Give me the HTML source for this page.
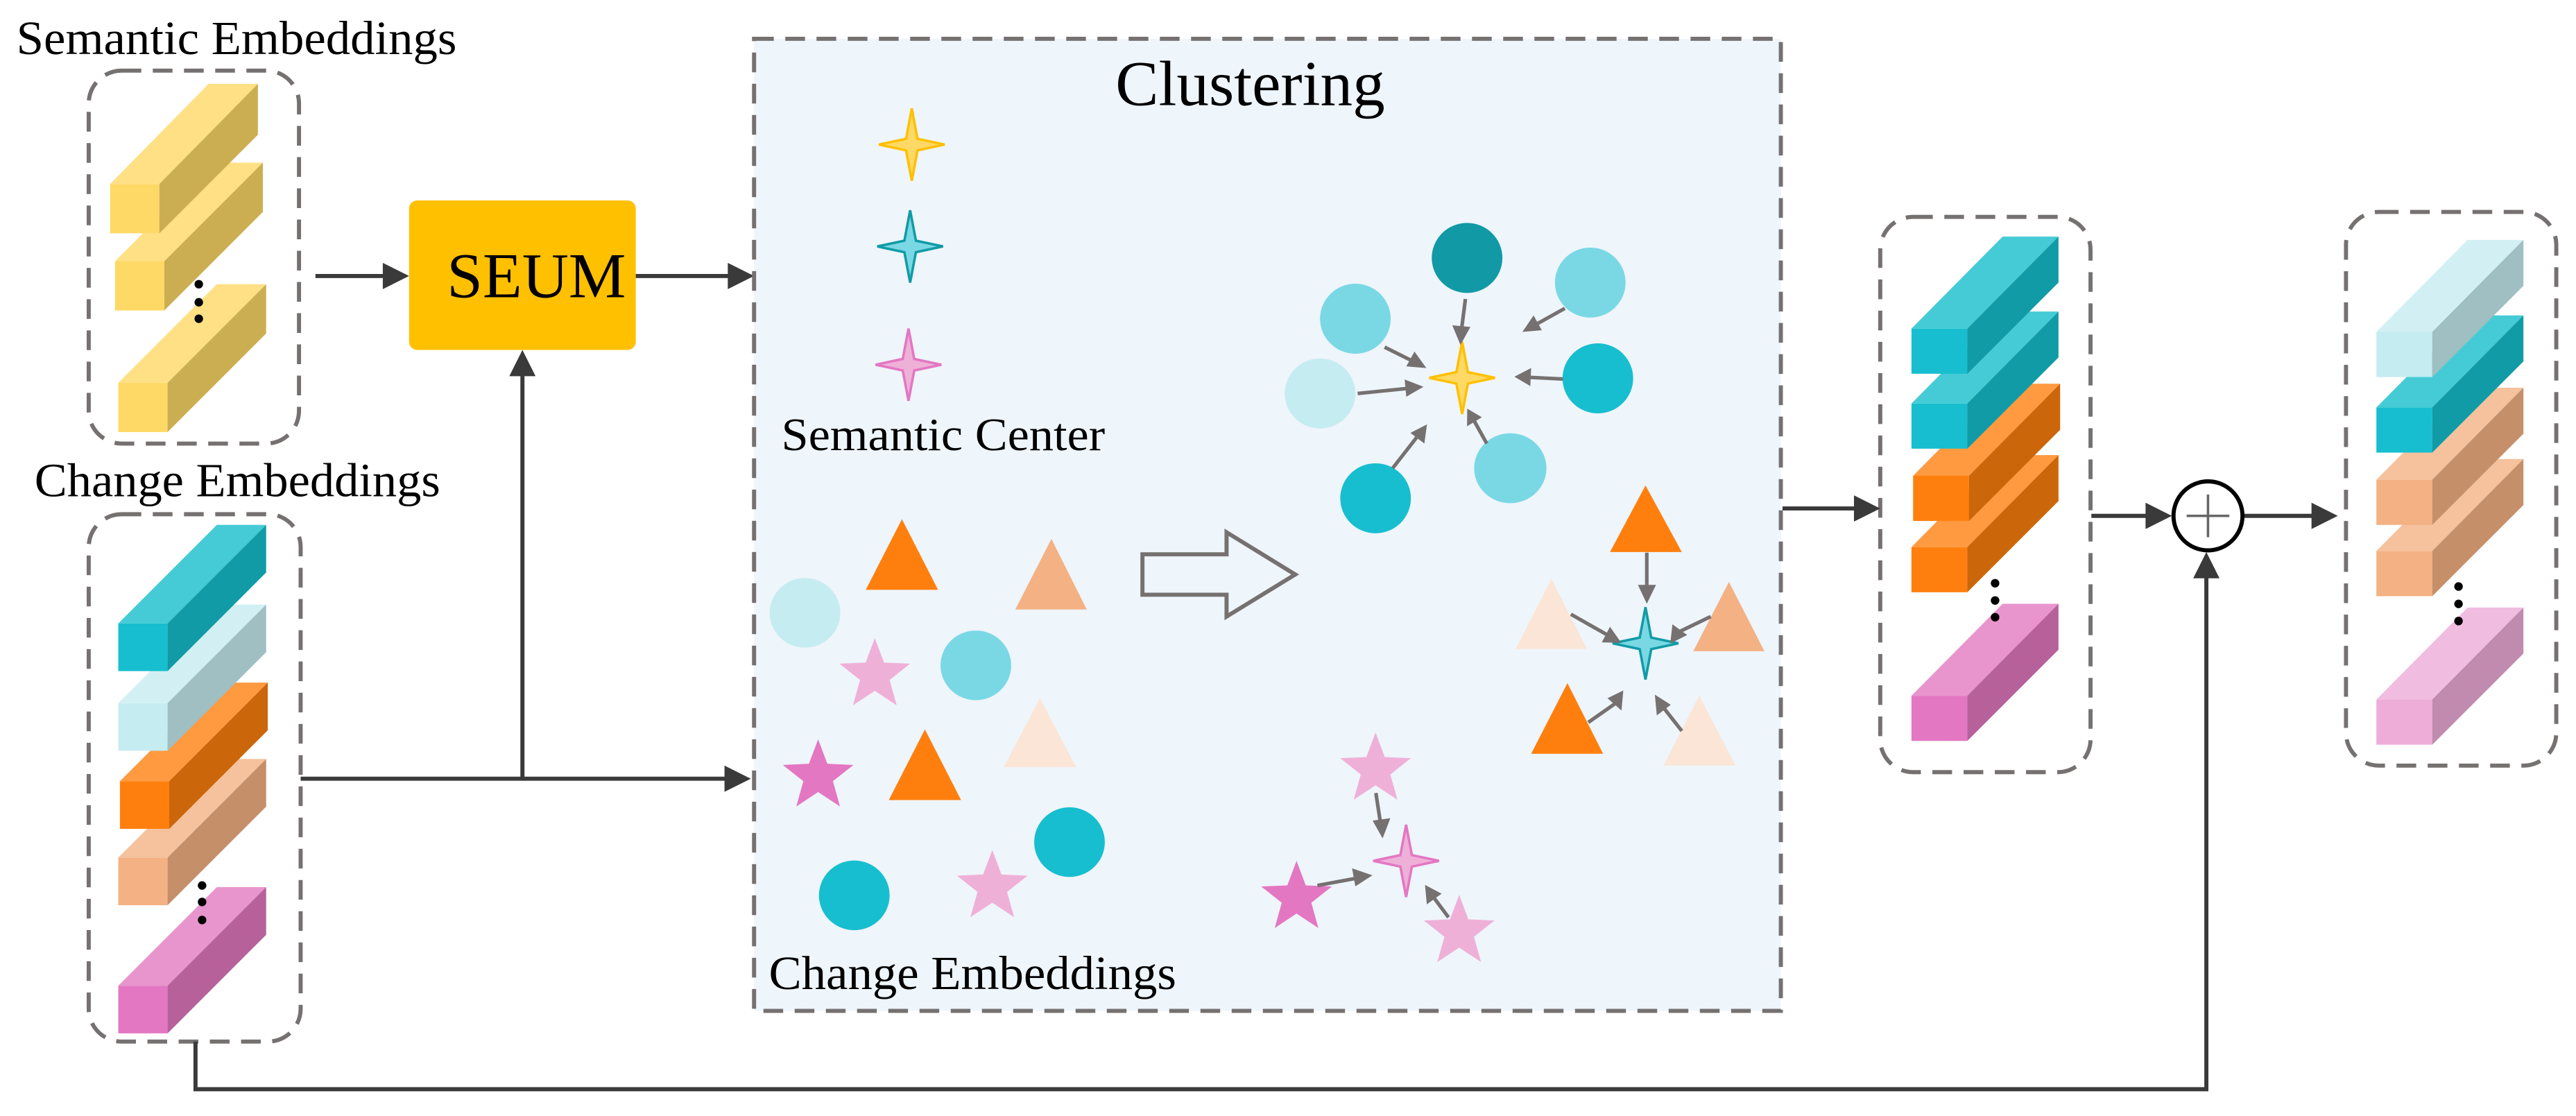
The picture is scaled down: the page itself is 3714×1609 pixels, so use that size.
<!DOCTYPE html>
<html><head><meta charset="utf-8"><style>html,body{margin:0;padding:0;background:#fff}svg{display:block}</style></head>
<body>
<svg xmlns="http://www.w3.org/2000/svg" width="3714" height="1609" viewBox="0 0 1568 679.3">
<defs>
<path id="sp" d="M0,-22 L3.5,-3.5 L20,0 L3.5,3.5 L0,22 L-3.5,3.5 L-20,0 L-3.5,-3.5Z"/>
<path id="st" d="M0,-22.6 L5.6,-7.7 L21.5,-7 L9,2.9 L13.3,18.3 L0,9.5 L-13.3,18.3 L-9,2.9 L-21.5,-7 L-5.6,-7.7Z"/>
</defs>
<rect width="1568" height="680" fill="#fff"/>
<g font-family="Liberation Serif, serif" fill="#000">
<text x="10" y="33" font-size="29" textLength="268" lengthAdjust="spacingAndGlyphs">Semantic Embeddings</text>
<text x="21" y="302" font-size="29" textLength="247" lengthAdjust="spacingAndGlyphs">Change Embeddings</text>
</g>
<!-- left dashed boxes -->
<g fill="none" stroke="#767171" stroke-width="2.5" stroke-dasharray="12 7">
<rect x="54" y="43" width="128" height="227" rx="20"/>
<rect x="54" y="313" width="129" height="321" rx="20"/>
<rect x="1144.5" y="132" width="128" height="338" rx="20"/>
<rect x="1428" y="129" width="128" height="337" rx="20"/>
</g>
<!-- yellow bars (bottom first) -->
<g transform="translate(72,233)"><rect width="30" height="30" fill="#FFD966"/><polygon points="0,0 30,0 90,-60 60,-60" fill="#FFE085"/><polygon points="30,0 90,-60 90,-30 30,30" fill="#CCAE52"/></g>
<g transform="translate(70,159)"><rect width="30" height="30" fill="#FFD966"/><polygon points="0,0 30,0 90,-60 60,-60" fill="#FFE085"/><polygon points="30,0 90,-60 90,-30 30,30" fill="#CCAE52"/></g>
<g transform="translate(67,112)"><rect width="30" height="30" fill="#FFD966"/><polygon points="0,0 30,0 90,-61 60,-61" fill="#FFE085"/><polygon points="30,0 90,-61 90,-30 30,30" fill="#CCAE52"/></g>
<g fill="#000"><circle cx="121" cy="173" r="2.6"/><circle cx="121" cy="184" r="2.6"/><circle cx="121" cy="194" r="2.6"/></g>
<!-- change bars left -->
<g transform="translate(72,600)"><rect width="30" height="29" fill="#E377C2"/><polygon points="0,0 30,0 90,-60 60,-60" fill="#E895CD"/><polygon points="30,0 90,-60 90,-31 30,29" fill="#B7619B"/></g>
<g transform="translate(72,522)"><rect width="30" height="29" fill="#F4B183"/><polygon points="0,0 30,0 90,-60 60,-60" fill="#F5C29D"/><polygon points="30,0 90,-60 90,-31 30,29" fill="#C58F6A"/></g>
<g transform="translate(73,475.5)"><rect width="30" height="29" fill="#FF7F0E"/><polygon points="0,0 30,0 90,-60 60,-60" fill="#FF9A40"/><polygon points="30,0 90,-60 90,-31 30,29" fill="#CC660A"/></g>
<g transform="translate(72,428)"><rect width="30" height="29" fill="#C5ECF1"/><polygon points="0,0 30,0 90,-60 60,-60" fill="#D2F0F4"/><polygon points="30,0 90,-60 90,-31 30,29" fill="#A0BFC3"/></g>
<g transform="translate(72,379.5)"><rect width="30" height="29" fill="#17BECF"/><polygon points="0,0 30,0 90,-60 60,-60" fill="#45CBD6"/><polygon points="30,0 90,-60 90,-31 30,29" fill="#119BA6"/></g>
<g fill="#000"><circle cx="123" cy="539" r="2.6"/><circle cx="123" cy="549" r="2.6"/><circle cx="123" cy="560" r="2.6"/></g>
<!-- SEUM -->
<rect x="249" y="122" width="138" height="91" rx="5" fill="#FFC000"/>
<text x="272" y="181" font-family="Liberation Serif, serif" font-size="39" textLength="109" lengthAdjust="spacingAndGlyphs">SEUM</text>
<!-- connectors -->
<g stroke="#3A3A3A" stroke-width="2.5" fill="none">
<line x1="192" y1="168" x2="236" y2="168"/>
<line x1="387" y1="168" x2="446" y2="168"/>
<polyline points="183,474 318,474 318,226"/>
<line x1="318" y1="474" x2="444" y2="474"/>
<polyline points="119,634 119,663 1343,663 1343,350"/>
<line x1="1085" y1="309.5" x2="1132" y2="309.5"/>
<line x1="1273" y1="314" x2="1309" y2="314"/>
<line x1="1365" y1="314" x2="1410" y2="314"/>
</g>
<g fill="#3A3A3A">
<polygon points="249,168 233,160 233,176"/>
<polygon points="459,168 443,160 443,176"/>
<polygon points="318,213 310,229 326,229"/>
<polygon points="457,474 441,466 441,482"/>
<polygon points="1343,336 1335,352 1351,352"/>
<polygon points="1144.5,309.5 1128.5,301.5 1128.5,317.5"/>
<polygon points="1322,314 1306,306 1306,322"/>
<polygon points="1423,314 1407,306 1407,322"/>
</g>
<!-- plus circle -->
<circle cx="1344" cy="314" r="21" fill="#fff" stroke="#000" stroke-width="2.5"/>
<g stroke="#666" stroke-width="1.5"><line x1="1331" y1="314" x2="1357" y2="314"/><line x1="1344" y1="301" x2="1344" y2="327"/></g>
<!-- clustering panel -->
<rect x="459" y="23.6" width="625" height="591.7" fill="#EEF5FB" stroke="#767171" stroke-width="2.5" stroke-dasharray="12 7"/>
<g font-family="Liberation Serif, serif" fill="#000">
<text x="679" y="64" font-size="39" textLength="164" lengthAdjust="spacingAndGlyphs">Clustering</text>
<text x="475.6" y="274" font-size="28" textLength="197" lengthAdjust="spacingAndGlyphs">Semantic Center</text>
<text x="468" y="602" font-size="29" textLength="248" lengthAdjust="spacingAndGlyphs">Change Embeddings</text>
</g>
<!-- legend sparkles -->
<use href="#sp" transform="translate(555,88)" fill="#FFD966" stroke="#FFC000" stroke-width="1.5"/>
<use href="#sp" transform="translate(554,150)" fill="#7AD8E5" stroke="#119BA6" stroke-width="1.5"/>
<use href="#sp" transform="translate(553,222)" fill="#EFB0D8" stroke="#E377C2" stroke-width="1.5"/>
<!-- scattered -->
<ellipse cx="490" cy="373" rx="21.5" ry="21.2" fill="#C5ECF1"/>
<polygon points="549,316 527,359 571,359" fill="#FF7F0E"/>
<polygon points="640,328 618,371 661.5,371" fill="#F4B183"/>
<use href="#st" transform="translate(532.5,411)" fill="#EFB0D8"/>
<ellipse cx="594" cy="405" rx="21.5" ry="21.2" fill="#7AD8E5"/>
<polygon points="633,425 611,467 655,467" fill="#FBE5D6"/>
<use href="#st" transform="translate(498,472.6)" fill="#E377C2"/>
<polygon points="563,444 541,487 585,487" fill="#FF7F0E"/>
<ellipse cx="651" cy="512.6" rx="21.5" ry="21.2" fill="#17BECF"/>
<ellipse cx="520" cy="545" rx="21.5" ry="21.2" fill="#17BECF"/>
<use href="#st" transform="translate(604,540)" fill="#EFB0D8"/>
<!-- hollow arrow -->
<polygon points="695.4,337.4 746.6,337.4 746.6,324 788.4,349.7 746.6,375.3 746.6,362 695.4,362" fill="none" stroke="#767171" stroke-width="2.5"/>
<!-- cluster 1 -->
<ellipse cx="893" cy="157" rx="21.5" ry="21.3" fill="#1199A6"/>
<ellipse cx="968" cy="172" rx="21.5" ry="21.3" fill="#7AD8E5"/>
<ellipse cx="825" cy="194" rx="21.5" ry="21.3" fill="#7AD8E5"/>
<ellipse cx="803.5" cy="239.5" rx="21.5" ry="21.3" fill="#C5ECF1"/>
<ellipse cx="972.6" cy="230.3" rx="21.5" ry="21.3" fill="#17BECF"/>
<ellipse cx="919.3" cy="285" rx="22" ry="21.3" fill="#7AD8E5"/>
<ellipse cx="837.3" cy="303.3" rx="21.5" ry="21.3" fill="#17BECF"/>
<use href="#sp" transform="translate(890,230)" fill="#FFD966" stroke="#FFC000" stroke-width="1.5"/>
<!-- cluster 2 -->
<polygon points="1001.6,295.5 980,336 1023.7,336" fill="#FF7F0E"/>
<polygon points="944.3,352.4 922.6,395 966,395" fill="#FBE5D6"/>
<polygon points="1052.4,354.2 1030.7,396.4 1074,396.4" fill="#F4B183"/>
<polygon points="954.1,415.8 932,458.8 975.8,458.8" fill="#FF7F0E"/>
<polygon points="1034.3,423.4 1012.6,466 1056.4,466" fill="#FBE5D6"/>
<use href="#sp" transform="translate(1001.6,391.6)" fill="#7AD8E5" stroke="#119BA6" stroke-width="1.5"/>
<!-- cluster 3 -->
<use href="#st" transform="translate(837.3,468.5)" fill="#EFB0D8"/>
<use href="#st" transform="translate(789.2,546.6)" fill="#E377C2"/>
<use href="#st" transform="translate(888.2,567.3)" fill="#EFB0D8"/>
<use href="#sp" transform="translate(855.9,524)" fill="#EFB0D8" stroke="#E377C2" stroke-width="1.5"/>
<!-- gray small arrows -->
<g stroke="#767171" stroke-width="2.2" fill="#767171">
<g id="arrows">
<line x1="892" y1="182" x2="889.7" y2="200"/><polygon points="889,210 884,198 895,199" stroke="none"/>
<line x1="952.5" y1="187.7" x2="934" y2="198"/><polygon points="926.7,202 933.5,192 938.5,201" stroke="none"/>
<line x1="842.8" y1="211.3" x2="859.5" y2="219.6"/><polygon points="868.2,224 856,223 861,214" stroke="none"/>
<line x1="826.4" y1="239.5" x2="857" y2="236.4"/><polygon points="866.5,235.4 856,241.5 855,231" stroke="none"/>
<line x1="951.3" y1="230.7" x2="931" y2="229.7"/><polygon points="921.8,229.3 932,224 931.5,235" stroke="none"/>
<line x1="905" y1="270" x2="897.5" y2="256.5"/><polygon points="893.1,248.7 902,254 893,259.5" stroke="none"/>
<line x1="847.7" y1="285" x2="862.5" y2="266"/><polygon points="868.6,258.3 867,270 858.5,263.5" stroke="none"/>
<line x1="1002.4" y1="336.4" x2="1002.4" y2="358"/><polygon points="1002.4,367.5 997,356 1008,356" stroke="none"/>
<line x1="956.2" y1="373.9" x2="979" y2="386.8"/><polygon points="986.9,391.3 975,391 980,381.5" stroke="none"/>
<line x1="1041.3" y1="375.3" x2="1022" y2="384.6"/><polygon points="1016.7,391.7 1018,380 1027,386.5" stroke="none"/>
<line x1="966.8" y1="439.7" x2="983.5" y2="428"/><polygon points="988.1,420.3 987,432.5 978.5,425" stroke="none"/>
<line x1="1023.7" y1="444.9" x2="1012" y2="430"/><polygon points="1007.3,422.8 1017,429 1008.5,435.5" stroke="none"/>
<line x1="837.5" y1="482.7" x2="840.3" y2="501"/><polygon points="841.6,510.3 835.5,499.5 846.3,498" stroke="none"/>
<line x1="801.9" y1="539" x2="826" y2="534.5"/><polygon points="835.4,532.8 825,539.5 823,528.5" stroke="none"/>
<line x1="881.7" y1="558.4" x2="872.5" y2="546"/><polygon points="867.4,538.6 877.5,544 868.5,550.5" stroke="none"/>
</g>
</g>
<!-- right box 3 bars (bottom first) -->
<g transform="translate(1163.5,423.5)"><rect width="34" height="27.5" fill="#E377C2"/><polygon points="0,0 34,0 89.5,-56 55.5,-56" fill="#E895CD"/><polygon points="34,0 89.5,-56 89.5,-28 34,27.5" fill="#B7619B"/></g>
<g transform="translate(1163.5,333)"><rect width="34" height="27.5" fill="#FF7F0E"/><polygon points="0,0 34,0 89.5,-56 55.5,-56" fill="#FF9A40"/><polygon points="34,0 89.5,-56 89.5,-28 34,27.5" fill="#CC660A"/></g>
<g transform="translate(1164.5,289.6)"><rect width="34" height="27.5" fill="#FF7F0E"/><polygon points="0,0 34,0 89.5,-56 55.5,-56" fill="#FF9A40"/><polygon points="34,0 89.5,-56 89.5,-28 34,27.5" fill="#CC660A"/></g>
<g transform="translate(1163.5,245.6)"><rect width="34" height="27.5" fill="#17BECF"/><polygon points="0,0 34,0 89.5,-56 55.5,-56" fill="#45CBD6"/><polygon points="34,0 89.5,-56 89.5,-28 34,27.5" fill="#119BA6"/></g>
<g transform="translate(1163.5,200)"><rect width="34" height="27.5" fill="#17BECF"/><polygon points="0,0 34,0 89.5,-56 55.5,-56" fill="#45CBD6"/><polygon points="34,0 89.5,-56 89.5,-28 34,27.5" fill="#119BA6"/></g>
<g fill="#000"><circle cx="1214.4" cy="355" r="2.6"/><circle cx="1214.4" cy="365.5" r="2.6"/><circle cx="1214.4" cy="375.7" r="2.6"/></g>
<!-- right box 4 bars -->
<g transform="translate(1446.5,425.8)"><rect width="34" height="27.5" fill="#EEADD9"/><polygon points="0,0 34,0 89.5,-56 55.5,-56" fill="#F0BDE1"/><polygon points="34,0 89.5,-56 89.5,-28 34,27.5" fill="#C08BAE"/></g>
<g transform="translate(1446.5,335.4)"><rect width="34" height="27.5" fill="#F4B183"/><polygon points="0,0 34,0 89.5,-56 55.5,-56" fill="#F5C29D"/><polygon points="34,0 89.5,-56 89.5,-28 34,27.5" fill="#C58F6A"/></g>
<g transform="translate(1446.5,292)"><rect width="34" height="27.5" fill="#F4B183"/><polygon points="0,0 34,0 89.5,-56 55.5,-56" fill="#F5C29D"/><polygon points="34,0 89.5,-56 89.5,-28 34,27.5" fill="#C58F6A"/></g>
<g transform="translate(1446.5,248)"><rect width="34" height="27.5" fill="#17BECF"/><polygon points="0,0 34,0 89.5,-56 55.5,-56" fill="#45CBD6"/><polygon points="34,0 89.5,-56 89.5,-28 34,27.5" fill="#119BA6"/></g>
<g transform="translate(1446.5,202)"><rect width="34" height="27.5" fill="#C5ECF1"/><polygon points="0,0 34,0 89.5,-56 55.5,-56" fill="#D2F0F4"/><polygon points="34,0 89.5,-56 89.5,-28 34,27.5" fill="#A0BFC3"/></g>
<g fill="#000"><circle cx="1496.5" cy="357" r="2.6"/><circle cx="1496.5" cy="367.6" r="2.6"/><circle cx="1496.5" cy="378" r="2.6"/></g>
</svg>
</body></html>
